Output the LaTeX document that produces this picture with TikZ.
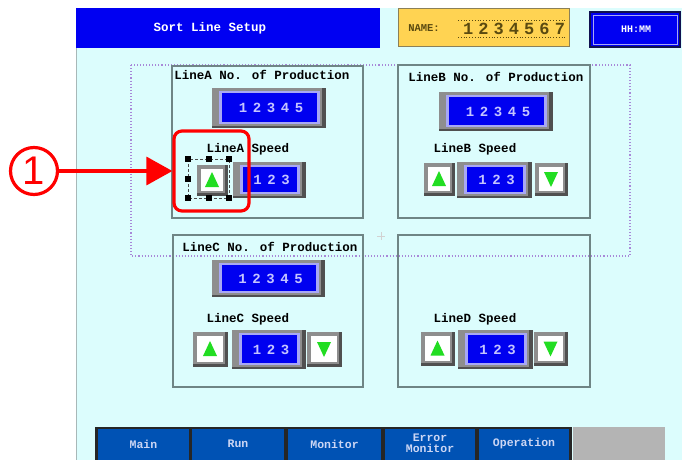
\documentclass[tikz,border=0pt]{standalone}
\usepackage{fontspec}
\newfontfamily\pixfont{Liberation Mono}
\newfontfamily\sffont{Liberation Sans}
\usetikzlibrary{arrows.meta}
\definecolor{scr}{HTML}{DCFDFD}
\definecolor{scrborder}{HTML}{A8B8B8}
\definecolor{titleblue}{HTML}{0000F2}
\definecolor{namey}{HTML}{FFD352}
\definecolor{nametext}{HTML}{5A4A10}
\definecolor{navyb}{HTML}{101050}
\definecolor{purp}{HTML}{A888D8}
\definecolor{grp}{HTML}{6F8585}
\definecolor{bezlight}{HTML}{8E8E8E}
\definecolor{bezdark}{HTML}{505050}
\definecolor{lav}{HTML}{A8A8F4}
\definecolor{dispblue}{HTML}{0000F0}
\definecolor{digit}{HTML}{C4C4FF}
\definecolor{trig}{HTML}{22DD22}
\definecolor{tabblue}{HTML}{0052B4}
\definecolor{tabtext}{HTML}{CCD6F4}
\definecolor{tabgray}{HTML}{B4B4B4}
\tikzset{
  lbl/.style={font=\pixfont\bfseries\fontsize{12.5}{13}\selectfont, text=black, inner sep=0},
  disptext/.style={font=\pixfont\bfseries\fontsize{14}{14}\selectfont\addfontfeature{LetterSpace=40}, text=digit, inner sep=0},
  tabtxt/.style={font=\pixfont\bfseries\fontsize{11.5}{12}\selectfont, text=tabtext, inner sep=0, align=center},
  grpbox/.style={draw=grp, line width=1.6},
  annot/.style={draw=red, line width=3.2},
}
\newcommand\mkdisp[6]{%
  \fill[bezlight] (#2,#3) rectangle (#4,#5);
  \fill[bezdark] ({#4-4},#3) rectangle (#4,#5);
  \fill[bezdark] (#2,{#5-2}) rectangle (#4,#5);
  \fill[lav] ({#2+7},{#3+3}) rectangle ({#4-6},{#5-4});
  \fill[dispblue] ({#2+10},{#3+5}) rectangle ({#4-9},{#5-6});
  \node[disptext] (#1) at ({(#2+#4)/2+2},{(#3+#5)/2}) {#6};
}
\newcommand\mkbtn[6]{%
  \fill[bezlight] (#2,#3) rectangle (#4,#5);
  \fill[bezdark] ({#4-3},#3) rectangle (#4,#5);
  \fill[bezdark] (#2,{#5-3}) rectangle (#4,#5);
  \fill[white] ({#2+4},{#3+4}) rectangle ({#4-5},{#5-5});
  \coordinate (#1) at ({(#2+#4)/2-0.5},{(#3+#5)/2-0.5});
  \fill[trig, shift={(#1)}] (0,{-8*#6}) -- (-7,{7*#6}) -- (7,{7*#6}) -- cycle;
}
\begin{document}
\begin{tikzpicture}[x=1pt,y=-1pt]
\useasboundingbox (0,0) rectangle (682,460);
\fill[white] (0,0) rectangle (682,460);
% screen
\fill[scr] (76,8) rectangle (682,460);
\draw[scrborder, line width=1.2] (76.6,8) -- (76.6,460);
% title bar
\fill[titleblue] (76,8) rectangle (380,48);
\node[lbl, text=white] (title) at (210,28) {Sort Line Setup};
% name box
\fill[namey] (398,8) rectangle (570,47);
\draw[nametext!70, line width=1] (398.5,8.5) rectangle (569.5,46.5);
\node[lbl, text=nametext, font=\pixfont\bfseries\fontsize{10.5}{11}\selectfont] (namelbl) at (424,28) {NAME:};
\node[text=nametext, inner sep=0, font=\pixfont\bfseries\fontsize{17}{17}\selectfont\addfontfeature{LetterSpace=30}] (nameval) at (514,29) {1234567};
\draw[nametext, dotted, line width=0.8] (458,20) -- (567,20);
\draw[nametext, dotted, line width=0.8] (458,37) -- (567,37);
% clock box
\fill[navyb] (589,11) rectangle (681,48);
\fill[titleblue] (591,13) rectangle (679,46);
\draw[lav, line width=0.8] (593,15) rectangle (677,44);
\node[lbl, text=white, font=\pixfont\bfseries\fontsize{10}{10}\selectfont] (clock) at (636,29) {HH:MM};
% dotted group
\draw[purp, dotted, line width=1.1] (131,65) rectangle (630,256);
% faint plus
\draw[gray!35, line width=0.8] (377,236) -- (385,236) (381,232) -- (381,240);
% group boxes
\draw[grpbox] (172,66) rectangle (363,218);
\draw[grpbox] (398,65) rectangle (590,218);
\draw[grpbox] (173,235) rectangle (363,387);
\draw[grpbox] (398,235) rectangle (590,387);
% titles
\node[lbl] (tA) at (262,75) {LineA No. of Production};
\node[lbl] (tB) at (496,77) {LineB No. of Production};
\node[lbl] (tC) at (270,247) {LineC No. of Production};
% production displays
\mkdisp{pA}{212}{88}{326}{128}{12345}
\mkdisp{pB}{439}{92}{553}{131}{12345}
\mkdisp{pC}{212}{260}{325}{297}{12345}
% speed labels
\node[lbl] (sA) at (248,149) {LineA Speed};
\node[lbl] (sB) at (475,149) {LineB Speed};
\node[lbl] (sC) at (248,319) {LineC Speed};
\node[lbl] (sD) at (475,319) {LineD Speed};
% speed rows
\mkdisp{vA}{233}{162}{306}{198}{123}
\mkbtn{uA}{197}{165}{228}{196}{1}
\mkbtn{uB}{424}{163}{455}{196}{1}
\mkdisp{vB}{457}{162}{532}{198}{123}
\mkbtn{dB}{535}{163}{568}{196}{-1}
\mkbtn{uC}{193}{332}{228}{367}{1}
\mkdisp{vC}{232}{330}{306}{369}{123}
\mkbtn{dC}{307}{332}{342}{367}{-1}
\mkbtn{uD}{421}{332}{455}{366}{1}
\mkdisp{vD}{458}{330}{533}{369}{123}
\mkbtn{dD}{534}{332}{568}{366}{-1}
% selection handles
\draw[black!70, line width=0.8, dash pattern=on 3pt off 2pt] (188,159) rectangle (229,198);
\foreach \hx/\hy in {188/159,209/159,229/159,188/179,188/198,209/198,229/198}
  \fill[black] ({\hx-2.6},{\hy-2.6}) rectangle ({\hx+2.6},{\hy+2.6});
% tabs
\fill[black!85] (95,427) rectangle (572,460);
\fill[tabblue] (98,429) rectangle (189,460);
\fill[tabblue] (192,429) rectangle (284,460);
\fill[tabblue] (288,429) rectangle (381,460);
\fill[tabblue] (385,429) rectangle (475,460);
\fill[tabblue] (479,429) rectangle (569,460);
\fill[tabgray] (573,427) rectangle (665,460);
\node[tabtxt] (tab1) at (143.5,444) {Main};
\node[tabtxt] (tab2) at (238,444) {Run};
\node[tabtxt] (tab3) at (334.5,444) {Monitor};
\node[tabtxt] (tab4) at (430,443) {Error\\[-1pt]Monitor};
\node[tabtxt] (tab5) at (524,444) {Operation};
% annotation
\node[annot, rounded corners=8, minimum width=75, minimum height=80, inner sep=0] (sel) at (211.5,171) {};
\node[annot, circle, minimum size=47, inner sep=0, text=red, font=\sffont\fontsize{40}{40}\selectfont] (c1) at (34,171) {1};
\draw[red, line width=3.2, -{Triangle[length=26pt,width=28pt]}] (c1) -- (sel.west);
\end{tikzpicture}
\end{document}
